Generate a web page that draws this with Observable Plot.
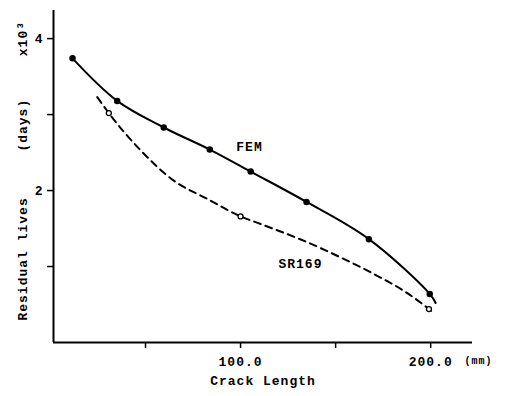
<!DOCTYPE html>
<html><head><meta charset="utf-8">
<script src="https://cdn.jsdelivr.net/npm/d3@7"></script>
<script src="https://cdn.jsdelivr.net/npm/@observablehq/plot@0.6"></script>
<style>body{margin:0;background:#fff}</style>
</head><body><div id="chart"></div>
<script>
// FEM (filled markers)
const femX = [11.6, 35.1, 59.6, 83.8, 105.3, 134.7, 167.5, 199.5];
const femY = [3.74, 3.18, 2.83, 2.54, 2.25, 1.85, 1.36, 0.64];
// FEM curve (markers plus end of drawn curve)
const femLineX = [11.6, 35.1, 59.6, 83.8, 105.3, 134.7, 167.5, 199.5, 202.6];
const femLineY = [3.74, 3.18, 2.83, 2.54, 2.25, 1.85, 1.36, 0.64, 0.52];
// SR169 (open markers)
const srX = [30.7, 100, 199.1];
const srY = [3.02, 1.66, 0.44];
// SR169 dashed curve as traced
const srLineX = [24.6, 30.7, 47.4, 64.9, 82.5, 100, 110.5, 135.1, 152.6, 170.2, 187.7, 199.1, 202.1];
const srLineY = [3.23, 3.02, 2.53, 2.13, 1.89, 1.66, 1.56, 1.32, 1.12, 0.90, 0.65, 0.44, 0.38];
// axes
const xTicks = [50, 100, 150, 200];
const xTickLabels = ["", "100.0", "", "200.0"];
const yTicks = [1, 2, 3, 4];
const yTickLabels = ["", "2", "", "4"];
const xDomain = [1.6, 222];
const yDomain = [0, 4.37];
const seriesLabels = [{x: 104.7, y: 2.57, t: "FEM"}, {x: 131.5, y: 1.04, t: "SR169"}];

const femPts = femX.map((x, i) => ({x, y: femY[i]}));
const femLine = femLineX.map((x, i) => ({x, y: femLineY[i]}));
const srPts = srX.map((x, i) => ({x, y: srY[i]}));
const srLine = srLineX.map((x, i) => ({x, y: srLineY[i]}));

const font = "'Liberation Mono', 'DejaVu Sans Mono', monospace";

const plot = Plot.plot({
  width: 509, height: 396,
  marginLeft: 53, marginRight: 37, marginTop: 10, marginBottom: 54,
  x: {domain: xDomain},
  y: {domain: yDomain},
  style: {fontFamily: font, fontWeight: "bold", fontSize: "13px", color: "#000", background: "#fff", letterSpacing: "1px"},
  marks: [
    Plot.ruleX([xDomain[0]], {y1: 0, y2: yDomain[1], stroke: "#000", strokeWidth: 2}),
    Plot.ruleY([0], {x1: xDomain[0], x2: xDomain[1], stroke: "#000", strokeWidth: 2}),
    Plot.axisX(xTicks, {tickSize: 6, tickPadding: 8, tickFormat: d => xTickLabels[xTicks.indexOf(d)], label: null, fontSize: 13, fontWeight: "bold", strokeWidth: 1.5}),
    Plot.axisY(yTicks, {tickSize: 6, tickPadding: 4, tickFormat: d => yTickLabels[yTicks.indexOf(d)], label: null, fontSize: 13, fontWeight: "bold", strokeWidth: 1.5}),
    Plot.line(femLine, {x: "x", y: "y", curve: "catmull-rom", stroke: "#000", strokeWidth: 2}),
    Plot.line(srLine, {x: "x", y: "y", curve: "monotone-x", stroke: "#000", strokeWidth: 2, strokeDasharray: "7,5"}),
    Plot.dot(femPts, {x: "x", y: "y", r: 2.5, fill: "#000", stroke: "#000"}),
    Plot.dot(srPts, {x: "x", y: "y", r: 2.5, fill: "#fff", stroke: "#000", strokeWidth: 1.3}),
    Plot.text(seriesLabels, {x: "x", y: "y", text: "t", fontSize: 13, fontWeight: "bold", fill: "#000"}),
    Plot.text(["Residual lives"], {frameAnchor: "left", textAnchor: "middle", y: [1.1], rotate: -90, dx: -31, fontSize: 13, fontWeight: "bold", fill: "#000", letterSpacing: "2px"}),
    Plot.text(["(days)"], {frameAnchor: "left", textAnchor: "middle", y: [2.86], rotate: -90, dx: -31, fontSize: 13, fontWeight: "bold", fill: "#000", letterSpacing: "2px"}),
    Plot.text(["x10\u00b3"], {frameAnchor: "left", textAnchor: "middle", y: [4.0], rotate: -90, dx: -31, fontSize: 13, fontWeight: "bold", fill: "#000", letterSpacing: "2px"}),
    Plot.text(["Crack Length"], {frameAnchor: "bottom", x: [111.8], dy: 42, fontSize: 13, fontWeight: "bold", fill: "#000"}),
    Plot.text(["(mm)"], {frameAnchor: "bottom", x: [xDomain[1]], dx: 6, dy: 21, fontSize: 10, fontWeight: "bold", fill: "#000", letterSpacing: "1px"})
  ]
});
document.getElementById("chart").appendChild(plot);
</script>
</body></html>
